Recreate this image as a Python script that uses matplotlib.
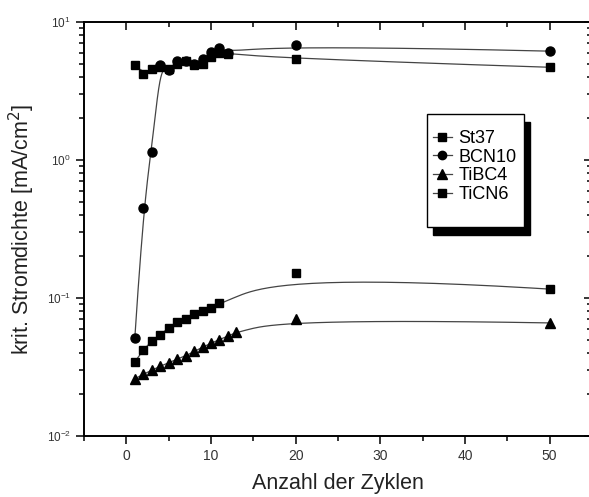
import matplotlib
matplotlib.use("Agg")
import matplotlib.pyplot as plt
from matplotlib.patches import Rectangle
from matplotlib.ticker import LogLocator, MultipleLocator, NullFormatter
import numpy as np

plt.rcParams['font.family'] = ['Liberation Sans', 'DejaVu Sans']

# values
zyklen_a = [1, 2, 3, 4, 5, 6, 7, 8, 9, 10, 11, 12, 20, 50]
st37 = [4.9, 4.2, 4.6, 4.7, 4.6, 5.0, 5.2, 4.9, 5.0, 5.6, 6.0, 5.9, 5.4, 4.7]
bcn10 = [0.051, 0.45, 1.15, 4.9, 4.5, 5.2, 5.2, 5.0, 5.4, 6.1, 6.5, 6.0, 6.8, 6.15]

zyklen_b = [1, 2, 3, 4, 5, 6, 7, 8, 9, 10, 11, 12, 13, 20, 50]
tibc4 = [0.026, 0.028, 0.030, 0.032, 0.034, 0.036, 0.038, 0.041, 0.044,
         0.047, 0.050, 0.053, 0.057, 0.071, 0.066]

zyklen_c = [1, 2, 3, 4, 5, 6, 7, 8, 9, 10, 11, 20, 50]
ticn6 = [0.0345, 0.042, 0.049, 0.054, 0.061, 0.067, 0.071, 0.076, 0.080,
         0.084, 0.092, 0.151, 0.116]


def bspline(xs, ys, k=3, n=400):
    # clamped B-spline in (x, log y), like Origin's B-spline connect
    P = np.column_stack([xs, np.log10(ys)])
    m = len(P)
    t = np.concatenate([np.zeros(k), np.linspace(0, 1, m - k + 1), np.ones(k)])
    u = np.linspace(0, 1, n)
    N = np.zeros((n, len(t) - 1))
    for i in range(len(t) - 1):
        N[:, i] = (t[i] <= u) & (u < t[i + 1])
    N[-1, :] = 0
    N[-1, m - 1] = 1
    for d in range(1, k + 1):
        for i in range(len(t) - 1 - d):
            a = (u - t[i]) / (t[i + d] - t[i]) * N[:, i] if t[i + d] != t[i] else 0
            b = (t[i + d + 1] - u) / (t[i + d + 1] - t[i + 1]) * N[:, i + 1] if t[i + d + 1] != t[i + 1] else 0
            N[:, i] = a + b
    C = N[:, :m] @ P
    return C[:, 0], 10 ** C[:, 1]


W, H = 589, 497
fig = plt.figure(figsize=(W / 100, H / 100), dpi=100)
ax = fig.add_axes([0.1426, 0.1227, 0.8625, 0.833])

series = [
    ("St37", zyklen_a, st37, "s", 6),
    ("BCN10", zyklen_a, bcn10, "o", 6.5),
    ("TiBC4", zyklen_b, tibc4, "^", 7),
    ("TiCN6", zyklen_c, ticn6, "s", 6),
]
for name, xs, ys, mk, ms in series:
    cx, cy = bspline(xs, ys)
    ax.plot(cx, cy, color="#444444", lw=0.9, zorder=2)
    ax.plot(xs, ys, linestyle="none", marker=mk, ms=ms, color="black", zorder=3)
    # proxy for legend
    ax.plot([], [], color="#444444", lw=0.9, marker=mk, ms=ms - 0.5,
            markerfacecolor="black", markeredgecolor="black", label=name)

ax.set_yscale("log")
ax.set_ylim(1e-2, 1e1)
ax.set_xlim(-5, 55)
ax.xaxis.set_major_locator(MultipleLocator(10))
ax.xaxis.set_minor_locator(MultipleLocator(5))
ax.yaxis.set_major_locator(LogLocator(base=10))
ax.yaxis.set_minor_locator(LogLocator(base=10, subs=np.arange(2, 10)))
ax.yaxis.set_minor_formatter(NullFormatter())

for s in ax.spines.values():
    s.set_linewidth(1.4)
ax.tick_params(which="both", top=True, right=True, width=1.1, labelcolor="#333333",
               direction="out")
ax.tick_params(which="major", length=6)
ax.tick_params(which="minor", length=3.5)
ax.tick_params(axis="x", labelsize=10)
ax.tick_params(axis="y", labelsize=8.5)
# top and right ticks point into the plot
for t in ax.xaxis.get_ticklines(minor=False)[1::2] + ax.xaxis.get_ticklines(minor=True)[1::2]:
    t.set_marker(3)
for t in ax.yaxis.get_ticklines(minor=False)[1::2] + ax.yaxis.get_ticklines(minor=True)[1::2]:
    t.set_marker(0)

ax.set_xlabel("Anzahl der Zyklen", fontsize=15.5, color="#222222", labelpad=7)
ax.set_ylabel("krit. Stromdichte [mA/cm$^2$]", fontsize=15.5, color="#222222", labelpad=7)

# legend box with solid black shadow (pixel layout of the reference)
bx0, by0, bx1, by1 = 427, 114, 524, 227
ax.add_patch(Rectangle(((bx0 + 6) / W, 1 - (by1 + 8) / H), (bx1 - bx0) / W, (by1 - by0) / H,
                       transform=fig.transFigure, fc="black", ec="black", lw=1, zorder=4))
ax.add_patch(Rectangle((bx0 / W, 1 - by1 / H), (bx1 - bx0) / W, (by1 - by0) / H,
                       transform=fig.transFigure, fc="white", ec="black", lw=1, zorder=4.5))
leg = ax.legend(loc="upper left", bbox_to_anchor=(433 / W, 1 - 130 / H),
                bbox_transform=fig.transFigure, borderaxespad=0, borderpad=0,
                fontsize=13, handlelength=1.05, handletextpad=0.35, labelspacing=0.09,
                frameon=False)
leg.set_zorder(5)

fig.savefig("out.png", dpi=100)
